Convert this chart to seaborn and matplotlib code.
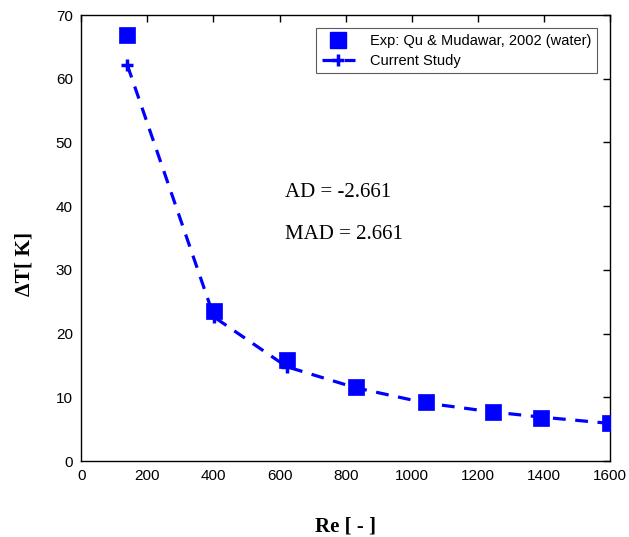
import matplotlib
matplotlib.use("Agg")
import matplotlib.pyplot as plt
import seaborn as sns
import pandas as pd
from matplotlib.lines import Line2D

# Data
re_exp = [140, 402, 622, 830, 1043, 1245, 1390, 1600]
dt_exp = [66.9, 23.6, 15.9, 11.6, 9.2, 7.7, 6.8, 6.0]
re_cur = [140, 402, 622, 830, 1043, 1245, 1390, 1600]
dt_cur = [62.1, 22.6, 14.8, 11.5, 9.1, 7.7, 6.9, 5.9]
xticks = [0, 200, 400, 600, 800, 1000, 1200, 1400, 1600]
yticks = [0, 10, 20, 30, 40, 50, 60, 70]

sns.set_style("white")
plt.rcParams['font.family'] = ['Liberation Sans', 'DejaVu Sans']
plt.rcParams['text.color'] = 'black'
plt.rcParams['axes.labelcolor'] = 'black'
plt.rcParams['xtick.color'] = 'black'
plt.rcParams['ytick.color'] = 'black'

BLUE = "#0000FF"
fig = plt.figure(figsize=(6.29, 5.37), dpi=100)
ax = fig.add_axes([0.129, 0.1415, 0.841, 0.8305])

df_exp = pd.DataFrame({"Re": re_exp, "dT": dt_exp})
df_cur = pd.DataFrame({"Re": re_cur, "dT": dt_cur})

sns.lineplot(data=df_cur, x="Re", y="dT", ax=ax, color=BLUE, lw=2.3,
             marker="+", markersize=9, markeredgewidth=2.5,
             markeredgecolor=BLUE, markerfacecolor=BLUE, zorder=2)
ax.lines[-1].set_dashes((4, 3))
sns.scatterplot(data=df_exp, x="Re", y="dT", ax=ax, color=BLUE, marker="s",
                s=135, edgecolor=BLUE, linewidth=0.5, zorder=3)

ax.set_xlim(0, 1600)
ax.set_ylim(0, 70)
ax.set_xticks(xticks)
ax.set_yticks(yticks)
ax.tick_params(direction="in", length=5, width=1, top=True, right=True,
               labelsize=11, colors="black", pad=6)
ax.set_xticklabels([str(t) for t in xticks])
ax.set_yticklabels([str(t) for t in yticks])
for s in ax.spines.values():
    s.set_color("black")
    s.set_linewidth(1.0)

serif = ["Liberation Serif", "DejaVu Serif"]
ax.set_xlabel("Re [ - ]", fontsize=15, fontweight="bold", family=serif, labelpad=24)
ax.set_ylabel("ΔT[ K]", fontsize=15.5, fontweight="bold", family=serif)
ax.yaxis.set_label_coords(-0.088, 0.443)

ax.text(0.386, 0.603, "AD = -2.661", transform=ax.transAxes, fontsize=15,
        family=serif, va="center", ha="left")
ax.text(0.386, 0.509, "MAD = 2.661", transform=ax.transAxes, fontsize=15,
        family=serif, va="center", ha="left")

h1 = Line2D([], [], color=BLUE, marker="s", markersize=11.5, linestyle="none")
h2 = Line2D([], [], color=BLUE, marker="+", markersize=9, markeredgewidth=2.5,
            lw=2.3, dashes=(4, 3))
leg = ax.legend([h1, h2], ["Exp: Qu & Mudawar, 2002 (water)", "Current Study"],
                loc="upper right", bbox_to_anchor=(0.975, 0.971), borderaxespad=0,
                fontsize=10.5, fancybox=False, frameon=True, handlelength=2.3,
                borderpad=0.4, labelspacing=0.4, handletextpad=1.0)
leg.get_frame().set_edgecolor("#333333")
leg.get_frame().set_linewidth(0.8)

fig.savefig("out.png", dpi=100)
